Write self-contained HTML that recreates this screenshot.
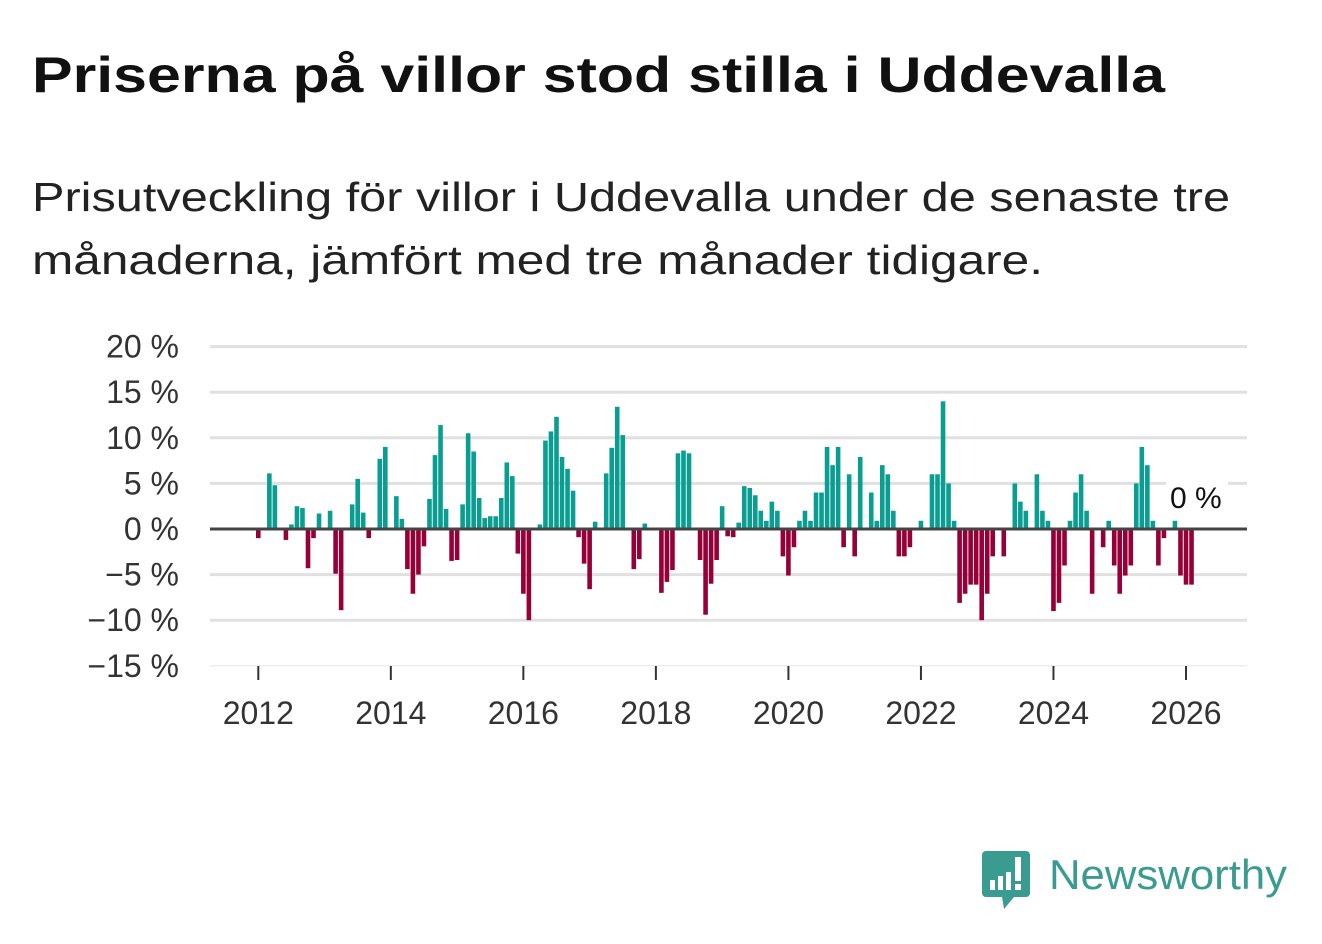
<!DOCTYPE html>
<html><head><meta charset="utf-8"><style>
html,body{margin:0;padding:0;background:#fff;}
body{width:1322px;height:939px;overflow:hidden;font-family:"Liberation Sans",sans-serif;}
</style></head><body>
<svg width="1322" height="939" viewBox="0 0 1322 939" xmlns="http://www.w3.org/2000/svg">
<text x="32" y="92" font-family="Liberation Sans, sans-serif" font-weight="bold" font-size="50" fill="#111" textLength="1133" lengthAdjust="spacingAndGlyphs">Priserna på villor stod stilla i Uddevalla</text>
<text x="32" y="211" font-family="Liberation Sans, sans-serif" font-size="41" fill="#222" textLength="1198" lengthAdjust="spacingAndGlyphs">Prisutveckling för villor i Uddevalla under de senaste tre</text>
<text x="32" y="274" font-family="Liberation Sans, sans-serif" font-size="41" fill="#222" textLength="1011" lengthAdjust="spacingAndGlyphs">månaderna, jämfört med tre månader tidigare.</text>
<g id="grid"></g>
<g id="bars"></g>
<g id="axes"></g>
<g>
<path d="M986 851 h40 a4 4 0 0 1 4 4 v38 a4 4 0 0 1 -4 4 h-12 l-10 12 l-2 -12 h-16 a4 4 0 0 1 -4 -4 v-38 a4 4 0 0 1 4 -4z" fill="#3a9b90"/>
<rect x="990" y="880" width="5" height="10" fill="#fff"/>
<rect x="998" y="876" width="5" height="14" fill="#fff"/>
<rect x="1006" y="872" width="5" height="18" fill="#fff"/>
<rect x="1015" y="857" width="6" height="24" fill="#fff"/>
<rect x="1015" y="884" width="6" height="6" fill="#fff"/>
<text x="1049" y="889" font-family="Liberation Sans, sans-serif" font-size="42" fill="#3a9b90" textLength="238" lengthAdjust="spacingAndGlyphs">Newsworthy</text>
</g>
</svg>
<script>
const yTicks = [20, 15, 10, 5, 0, -5, -10, -15];
const yTickLabels = ["20 %", "15 %", "10 %", "5 %", "0 %", "−5 %", "−10 %", "−15 %"];
const xYears = [2012, 2014, 2016, 2018, 2020, 2022, 2024, 2026];
const startYear = 2012;
const values = [
-1,0,6.1,4.8,0,-1.2,0.5,2.5,2.3,-4.3,-1,1.7,
0,2.0,-4.9,-8.9,0,2.7,5.5,1.8,-1,0,7.7,9.0,
0,3.6,1.1,-4.4,-7.1,-5.0,-1.9,3.3,8.1,11.4,2.2,-3.5,
-3.4,2.7,10.5,8.5,3.4,1.2,1.4,1.4,3.4,7.3,5.8,-2.7,
-7.1,-10,0,0.5,9.7,10.7,12.3,7.9,6.6,4.2,-0.9,-3.8,
-6.6,0.8,0,6.1,8.9,13.4,10.3,0,-4.4,-3.3,0.6,0,
0,-7.0,-5.8,-4.5,8.3,8.6,8.3,0,-3.4,-9.4,-6.0,-3.4,
2.5,-0.8,-0.9,0.7,4.7,4.5,3.7,2.0,0.9,3.0,2.0,-3.0,
-5.1,-2.0,0.9,2.0,0.9,4.0,4.0,9.0,7.0,9.0,-2.0,6.0,
-3.0,7.9,0,4.0,0.9,7.0,6.0,2.0,-3.0,-3.0,-2.0,0,
0.9,0,6.0,6.0,14.0,5.0,0.9,-8.1,-7.1,-6.1,-6.1,-10,
-7.1,-3.0,0,-3.0,0,5.0,3.0,2.0,0,6.0,2.0,0.9,
-9.0,-8.1,-4.0,0.9,4.0,6.0,2.0,-7.1,0,-2.0,
0.9,-4.0,-7.1,-5.1,-4.0,5.0,9.0,7.0,0.9,-4.0,-1.0,0,
0.9,-5.1,-6.1,-6.1
];
const NS="http://www.w3.org/2000/svg";
const X0=258.3, MW=5.522;
function xMonth(i){return X0+MW*i;}
function xYear(y){return X0+MW*12*(y-startYear);}
function yVal(v){return 529 - v*9.12;}
const grid=document.getElementById('grid'), bars=document.getElementById('bars'), axes=document.getElementById('axes');
yTicks.forEach((t,k)=>{
  if(t!==0){
    const l=document.createElementNS(NS,'line');
    
    
    l.setAttribute('x1',210);l.setAttribute('x2',1247);
    l.setAttribute('y1',yVal(t));l.setAttribute('y2',yVal(t));
    l.setAttribute('stroke', t===-15?'#eee':'#e0e0e0');l.setAttribute('stroke-width',t===-15?1.5:3);
    grid.appendChild(l);
  }
  const tx=document.createElementNS(NS,'text');
  
  
  tx.setAttribute('x',179);tx.setAttribute('y',yVal(t)+11);
  tx.setAttribute('text-anchor','end');tx.setAttribute('font-size','32');tx.setAttribute('fill','#333');
  tx.textContent=yTickLabels[k];
  axes.appendChild(tx);
});
values.forEach((v,i)=>{
  if(v===0) return;
  const r=document.createElementNS(NS,'rect');
  
  
  const y0=yVal(0), y1=yVal(v);
  r.setAttribute('x',xMonth(i)-2.3);r.setAttribute('width',4.6);
  r.setAttribute('y',Math.min(y0,y1));r.setAttribute('height',Math.abs(y1-y0));
  r.setAttribute('fill',v>0?'#0a9e92':'#960038');
  bars.appendChild(r);
});
const zl=document.createElementNS(NS,'line');


zl.setAttribute('x1',210);zl.setAttribute('x2',1247);zl.setAttribute('y1',529);zl.setAttribute('y2',529);
zl.setAttribute('stroke','#444');zl.setAttribute('stroke-width',3);
axes.appendChild(zl);
xYears.forEach(yr=>{
  const x=xYear(yr);
  const tk=document.createElementNS(NS,'line');
  
  
  tk.setAttribute('x1',x);tk.setAttribute('x2',x);tk.setAttribute('y1',666);tk.setAttribute('y2',680);
  tk.setAttribute('stroke','#333');tk.setAttribute('stroke-width',2);
  axes.appendChild(tk);
  const tx=document.createElementNS(NS,'text');
  
  
  tx.setAttribute('x',x);tx.setAttribute('y',724);tx.setAttribute('text-anchor','middle');
  tx.setAttribute('font-size','32');tx.setAttribute('fill','#333');
  tx.textContent=String(yr);
  axes.appendChild(tx);
});
const bg=document.createElementNS(NS,'rect');


bg.setAttribute('x',1166);bg.setAttribute('y',480);bg.setAttribute('width',62);bg.setAttribute('height',34);bg.setAttribute('fill','#fff');
axes.appendChild(bg);
const lv=document.createElementNS(NS,'text');


lv.setAttribute('x',1170);lv.setAttribute('y',508);lv.setAttribute('font-size','30');lv.setAttribute('fill','#111');
lv.textContent='0 %';
axes.appendChild(lv);
</script>
</body></html>
